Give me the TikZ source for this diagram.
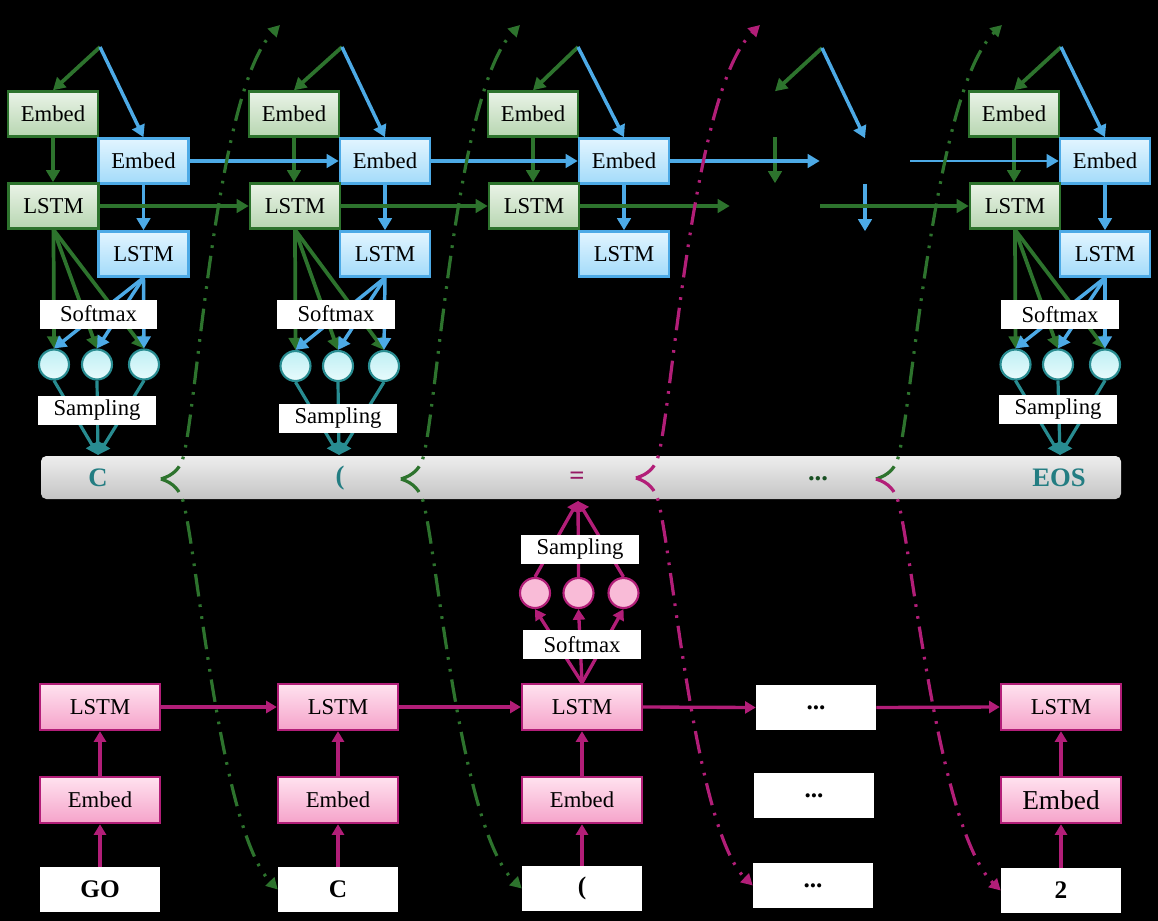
\documentclass[tikz,border=0pt]{standalone}
\usepackage{fontspec}
\setmainfont{Liberation Serif}
\usetikzlibrary{arrows.meta,shadings}
\pgfdeclarelayer{back}
\pgfdeclarelayer{lines}
\pgfsetlayers{back,lines,main}
\definecolor{gr}{RGB}{45,115,45}
\definecolor{bl}{RGB}{77,170,230}
\definecolor{mg}{RGB}{178,30,120}
\definecolor{tl}{RGB}{40,140,145}
\definecolor{tltxt}{RGB}{35,125,130}
\definecolor{dgr}{RGB}{25,80,35}
\definecolor{mgd}{RGB}{150,25,100}
\definecolor{gtop}{RGB}{234,243,231}
\definecolor{gbot}{RGB}{183,214,177}
\definecolor{btop}{RGB}{226,245,255}
\definecolor{bbot}{RGB}{163,219,250}
\definecolor{ptop}{RGB}{255,226,239}
\definecolor{pbot}{RGB}{245,163,202}
\definecolor{ctop}{RGB}{190,239,244}
\definecolor{cbot}{RGB}{232,251,252}
\definecolor{pcirc}{RGB}{249,187,215}
\tikzset{
  lab/.style={font=\fontsize{17}{19}\selectfont, inner sep=0pt},
  gbox/.style={lab, draw=gr, line width=1.9pt, top color=gtop, bottom color=gbot, minimum width=67.5pt, minimum height=33.75pt},
  bbox/.style={lab, draw=bl, line width=1.9pt, top color=btop, bottom color=bbot, minimum width=67.5pt, minimum height=33.75pt},
  ghost/.style={minimum width=67.5pt, minimum height=33.75pt, inner sep=0pt},
  pbox/.style={lab, draw=mg, line width=1.8pt, top color=ptop, bottom color=pbot, minimum width=90pt, minimum height=34.5pt},
  wlab/.style={lab, fill=white, minimum width=88pt, minimum height=21.75pt},
  wbox/.style={fill=white, inner sep=0pt, minimum width=90pt, minimum height=33.75pt, font=\fontsize{19}{21}\selectfont\bfseries},
  ccirc/.style={circle, draw=tl, line width=1.6pt, top color=ctop, bottom color=cbot, minimum size=22.5pt, inner sep=0pt},
  pcir/.style={circle, draw=mg, line width=1.6pt, fill=pcirc, minimum size=22.5pt, inner sep=0pt},
  bar/.style={rounded corners=4pt, top color=white!93!black, bottom color=white!77!black, minimum width=810pt, minimum height=32.25pt, inner sep=0pt},
  tok/.style={font=\fontsize{20}{22}\selectfont\bfseries, inner sep=0pt},
  ga/.style={draw=gr, line width=2.8pt, -{Triangle[length=9pt,width=10pt]}},
  ba/.style={draw=bl, line width=2.6pt, -{Triangle[length=9pt,width=10pt]}},
  ta/.style={draw=tl, line width=2.4pt, -{Triangle[length=9pt,width=10pt]}},
  pa/.style={draw=mg, line width=2.5pt, -{Triangle[length=8pt,width=9pt]}},
  dd/.style={line width=2.4pt, dash pattern=on 17pt off 6pt on 2pt off 7pt on 2pt off 6pt}
}
\begin{document}
\begin{tikzpicture}[x=0.75pt,y=-0.75pt]
\begin{pgfonlayer}{back}
\fill[black] (0,0) rectangle (1158,921);
\end{pgfonlayer}
\useasboundingbox (0,0) rectangle (1158,921);

% ---------- top split points ----------
\coordinate (s1) at (100,47);
\coordinate (s2) at (342,47);
\coordinate (s3) at (578,47);
\coordinate (s4) at (822,48);
\coordinate (s5) at (1061,47);
\coordinate (c1) at (98,455);
\coordinate (c2) at (339,455);
\coordinate (c5) at (1060,455);
\coordinate (c3) at (578,501);

% ---------- column 1 ----------
\node[gbox] (ge1) at (53,114) {Embed};
\node[bbox] (be1) at (143.5,161) {Embed};
\node[gbox] (gl1) at (53.5,206) {LSTM};
\node[bbox] (bl1) at (143.5,254) {LSTM};
\node[wlab] (sm1) at (98.5,314) {Softmax};
\node[ccirc] (o11) at (54,364.5) {};
\node[ccirc] (o12) at (97,364.5) {};
\node[ccirc] (o13) at (144,364.5) {};
\node[wlab] (sa1) at (97,410) {Sampling};

% ---------- column 2 ----------
\node[gbox] (ge2) at (294,114) {Embed};
\node[bbox] (be2) at (385,161) {Embed};
\node[gbox] (gl2) at (295,206) {LSTM};
\node[bbox] (bl2) at (385,254) {LSTM};
\node[wlab] (sm2) at (336,314) {Softmax};
\node[ccirc] (o21) at (295.5,366) {};
\node[ccirc] (o22) at (338,366) {};
\node[ccirc] (o23) at (384,366) {};
\node[wlab] (sa2) at (338,418) {Sampling};

% ---------- column 3 ----------
\node[gbox] (ge3) at (533,114) {Embed};
\node[bbox] (be3) at (624,161) {Embed};
\node[gbox] (gl3) at (534,206) {LSTM};
\node[bbox] (bl3) at (624,254) {LSTM};

% ---------- column 4 (not drawn) ----------
\node[ghost] (ge4) at (775,114) {};
\node[ghost] (be4) at (865,161) {};
\node[ghost] (gl4) at (775,206) {};
\node[ghost] (bl4) at (865,254) {};

% ---------- column 5 ----------
\node[gbox] (ge5) at (1014,114) {Embed};
\node[bbox] (be5) at (1105,161) {Embed};
\node[gbox] (gl5) at (1015,206) {LSTM};
\node[bbox] (bl5) at (1105,254) {LSTM};
\node[wlab] (sm5) at (1060,314.5) {Softmax};
\node[ccirc] (o51) at (1015.5,364.5) {};
\node[ccirc] (o52) at (1058,364.5) {};
\node[ccirc] (o53) at (1105,364.5) {};
\node[wlab] (sa5) at (1058,409.5) {Sampling};

% ---------- token bar ----------
\node[bar] (bar) at (581,477.5) {};
\node[tok, text=tltxt] (t1) at (98,478) {C};
\node[tok, text=tltxt] (t2) at (340,478) {(};
\node[tok, text=mgd] (t3) at (577,478) {=};
\node[tok, text=dgr] (t4) at (818,479) {...};
\node[tok, text=tltxt] (t5) at (1059,478) {EOS};

% ---------- bottom ----------
\node[pbox] (pl1) at (100,707) {LSTM};
\node[pbox] (pe1) at (100,800) {Embed};
\node[wbox] (in1) at (100,889.5) {GO};
\node[pbox] (pl2) at (338,707) {LSTM};
\node[pbox] (pe2) at (338,800) {Embed};
\node[wbox] (in2) at (338,889.5) {C};
\node[pbox] (pl3) at (582,707) {LSTM};
\node[pbox] (pe3) at (582,800) {Embed};
\node[wbox] (in3) at (582,888.5) {(};
\node[wbox] (d1) at (816,707.5) {...};
\node[wbox] (d2) at (814,795.5) {...};
\node[wbox] (d3) at (813,885.5) {...};
\node[pbox] (pl5) at (1061,707) {LSTM};
\node[pbox, font=\fontsize{20.5}{22}\selectfont] (pe5) at (1061,800) {Embed};
\node[wbox] (in5) at (1061,890.5) {2};
\node[wlab] (psm) at (582,644.5) {Softmax};
\node[pcir] (po1) at (535,593) {};
\node[pcir] (po2) at (578.5,593) {};
\node[pcir] (po3) at (623.5,593) {};
\node[wlab] (psa) at (580,549.5) {Sampling};

% ---------- connectors (under the boxes) ----------
\begin{pgfonlayer}{lines}
% column 1
\draw[ga] (s1) -- (ge1.north);
\draw[ba] (s1) -- (be1.north);
\draw[ga] (ge1.south) -- (ge1.south |- gl1.north);
\draw[ba] (be1.south) -- (be1.south |- bl1.north);
\foreach \o in {o11,o12,o13}{
  \draw[ga] (gl1.south) -- (\o.north);
  \draw[ba] (bl1.south) -- (\o.north);
  \draw[ta] (\o.south) -- (c1);
}
% column 2
\draw[ga] (s2) -- (ge2.north);
\draw[ba] (s2) -- (be2.north);
\draw[ga] (ge2.south) -- (ge2.south |- gl2.north);
\draw[ba] (be2.south) -- (be2.south |- bl2.north);
\foreach \o in {o21,o22,o23}{
  \draw[ga] (gl2.south) -- (\o.north);
  \draw[ba] (bl2.south) -- (\o.north);
  \draw[ta] (\o.south) -- (c2);
}
% column 3
\draw[ga] (s3) -- (ge3.north);
\draw[ba] (s3) -- (be3.north);
\draw[ga] (ge3.south) -- (ge3.south |- gl3.north);
\draw[ba] (be3.south) -- (be3.south |- bl3.north);
% column 4
\draw[ga] (s4) -- (ge4.north);
\draw[ba] (s4) -- (be4.north);
\draw[ga] (ge4.south) -- (ge4.south |- gl4.north);
\draw[ba] (be4.south) -- (be4.south |- bl4.north);
% column 5
\draw[ga] (s5) -- (ge5.north);
\draw[ba] (s5) -- (be5.north);
\draw[ga] (ge5.south) -- (ge5.south |- gl5.north);
\draw[ba] (be5.south) -- (be5.south |- bl5.north);
\foreach \o in {o51,o52,o53}{
  \draw[ga] (gl5.south) -- (\o.north);
  \draw[ba] (bl5.south) -- (\o.north);
  \draw[ta] (\o.south) -- (c5);
}
% horizontal chains
\draw[ba] (be1.east) -- (be2.west);
\draw[ba] (be2.east) -- (be3.west);
\draw[ba] (be3.east) -- (be4.west);
\draw[ba, line width=2pt] (be4.east) -- (be5.west);
\draw[ga] (gl1.east) -- (gl2.west);
\draw[ga] (gl2.east) -- (gl3.west);
\draw[ga] (gl3.east) -- (gl4.west);
\draw[ga] (gl4.east) -- (gl5.west);
% bottom
\draw[pa] (in1.north) -- (pe1.south);
\draw[pa] (pe1.north) -- (pl1.south);
\draw[pa] (in2.north) -- (pe2.south);
\draw[pa] (pe2.north) -- (pl2.south);
\draw[pa] (in3.north) -- (pe3.south);
\draw[pa] (pe3.north) -- (pl3.south);
\draw[pa] (in5.north) -- (pe5.south);
\draw[pa] (pe5.north) -- (pl5.south);
\draw[pa] (pl1.east) -- (pl2.west);
\draw[pa] (pl2.east) -- (pl3.west);
\draw[pa] (pl3.east) -- (d1.west);
\draw[pa] (d1.east) -- (pl5.west);
\foreach \o in {po1,po2,po3}{
  \draw[pa] (pl3.north) -- (\o.south);
  \draw[pa] (\o.north) -- (c3);
}
\end{pgfonlayer}

% ---------- dash-dot feedback curves ----------
\coordinate (k1) at (161,479);
\coordinate (k2) at (401,479);
\coordinate (k3) at (636,478);
\coordinate (k4) at (876,479);
\coordinate (u1) at (280,25);
\coordinate (u2) at (520,25);
\coordinate (u3) at (760,25);
\coordinate (u4) at (1002,25);
\tikzset{gtip/.style={-{Triangle[length=8.5pt,width=9pt]}}}
% curve 1
\draw[dd, draw=gr, gtip] (k1) .. controls (174,475) and (180,468) .. (183,458)
  .. controls (197,410) and (216,90) .. (u1);
\draw[dd, draw=gr, gtip] (k1) .. controls (174,483) and (180,491) .. (183,501)
  .. controls (197,550) and (220,830) .. (in2.west);
% curve 2
\draw[dd, draw=gr, gtip] (k2) .. controls (414,475) and (420,468) .. (423,458)
  .. controls (437,410) and (456,90) .. (u2);
\draw[dd, draw=gr, gtip] (k2) .. controls (414,483) and (420,491) .. (423,501)
  .. controls (437,550) and (460,830) .. (in3.west);
% curve 3
\draw[dd, draw=mg, gtip] (k3) .. controls (649,474) and (655,467) .. (658,457)
  .. controls (672,410) and (692,90) .. (u3);
\draw[dd, draw=mg, gtip] (k3) .. controls (649,482) and (655,490) .. (658,500)
  .. controls (672,550) and (695,830) .. (d3.west);
% curve 4
\draw[dd, draw=gr, gtip] (k4) .. controls (889,475) and (895,468) .. (898,458)
  .. controls (912,410) and (934,90) .. (u4);
\draw[dd, draw=mg, gtip] (k4) .. controls (889,483) and (895,491) .. (898,501)
  .. controls (912,550) and (938,830) .. (in5.west);
\end{tikzpicture}
\end{document}
